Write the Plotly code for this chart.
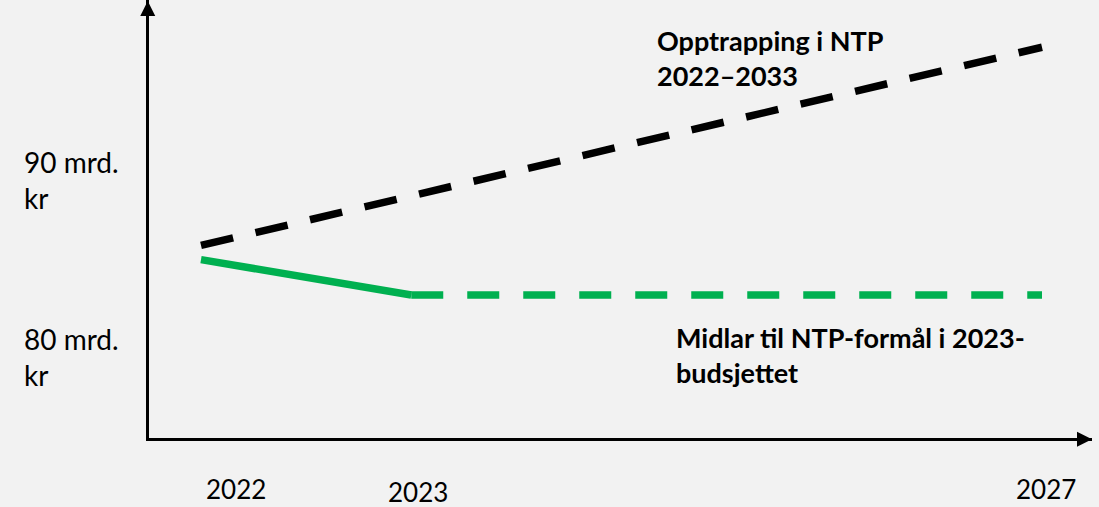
import plotly.graph_objects as go

# ---- data (schematic chart) ----
years = ["2022", "2023", "2027"]
x_pos = [0, 1, 4]                 # schematic position of each year on the time axis
ntp_plan = [86.3, 97.5]           # Opptrapping i NTP, 2022 -> 2027
budget_solid = [85.5, 83.5]       # Midlar i budsjettet, 2022 -> 2023
budget_dashed = [83.5, 83.5]      # Midlar i budsjettet, 2023 -> 2027
y_ticks = [90, 80]
y_tick_labels = ["90 mrd.<br>kr", "80 mrd.<br>kr"]
label_ntp = "Opptrapping i NTP<br>2022–2033"
label_budget = "Midlar til NTP-formål i 2023-<br>budsjettet"

W, H = 1099, 507
L, R, T, B = 149, 7, 0, 69
PW, PH = W - L - R, H - T - B
BG = "#f2f2f2"
GREEN = "#00b050"
FONT = "Lato"


def px_x(px):
    return (px - L) / PW


def px_y(py):
    return (H - B - py) / PH


fig = go.Figure()
fig.add_trace(go.Scatter(x=[x_pos[0], x_pos[2]], y=ntp_plan, mode="lines",
                         line=dict(color="black", width=7.5, dash="33px,23px"),
                         hoverinfo="skip"))
fig.add_trace(go.Scatter(x=x_pos[0:2], y=budget_solid, mode="lines",
                         line=dict(color=GREEN, width=7.5),
                         hoverinfo="skip"))
fig.add_trace(go.Scatter(x=x_pos[1:3], y=budget_dashed, mode="lines",
                         line=dict(color=GREEN, width=7.5, dash="32px,24px"),
                         hoverinfo="skip"))

annotations = []
# y labels
for v, t in zip(y_ticks, y_tick_labels):
    annotations.append(dict(text=t, xref="paper", x=px_x(22), yref="y", y=v,
                            xanchor="left", yanchor="middle", align="left",
                            showarrow=False, font=dict(family=FONT, size=28, color="black")))
# x labels
x_shifts = [35, 7, 4]
y_px = [489, 492, 489]
for xp, yr, s, yp in zip(x_pos, years, x_shifts, y_px):
    annotations.append(dict(text=yr, xref="x", x=xp, xshift=s, yref="paper", y=px_y(yp),
                            xanchor="center", yanchor="middle", showarrow=False,
                            font=dict(family=FONT, size=26, color="black")))
# series labels
annotations.append(dict(text="<b>" + label_ntp.replace("<br>", "</b><br><b>") + "</b>",
                        xref="paper", x=px_x(655), yref="paper", y=px_y(58),
                        xanchor="left", yanchor="middle", align="left", showarrow=False,
                        font=dict(family=FONT, size=27, color="black")))
annotations.append(dict(text="<b>" + label_budget.replace("<br>", "</b><br><b>") + "</b>",
                        xref="paper", x=px_x(674), yref="paper", y=px_y(355),
                        xanchor="left", yanchor="middle", align="left", showarrow=False,
                        font=dict(family=FONT, size=27, color="black")))
# axis arrowheads
annotations.append(dict(text="", xref="paper", x=0, xshift=-1.25, yref="paper", y=1,
                        ax=0, ay=30, showarrow=True, arrowhead=2, arrowsize=1.2,
                        arrowwidth=2.5, arrowcolor="black", standoff=0))
annotations.append(dict(text="", xref="paper", x=1, yref="paper", y=0, yshift=-1.25,
                        ax=-30, ay=0, showarrow=True, arrowhead=2, arrowsize=1.2,
                        arrowwidth=2.5, arrowcolor="black", standoff=0))

fig.update_layout(
    width=W, height=H,
    margin=dict(l=L, r=R, t=T, b=B, pad=0),
    paper_bgcolor=BG, plot_bgcolor=BG,
    showlegend=False, hovermode=False,
    annotations=annotations,
    xaxis=dict(range=[-0.2473, 4.2378], showgrid=False, zeroline=False,
               showticklabels=False, ticks="", showline=True,
               linecolor="black", linewidth=2.5, fixedrange=True),
    yaxis=dict(range=[75.42, 100.17], showgrid=False, zeroline=False,
               showticklabels=False, ticks="", showline=True,
               linecolor="black", linewidth=2.5, fixedrange=True),
)

fig.write_html("out.html",
               config={"displayModeBar": False},
               post_script="document.body.style.margin='0';document.body.style.background='#f2f2f2';")
